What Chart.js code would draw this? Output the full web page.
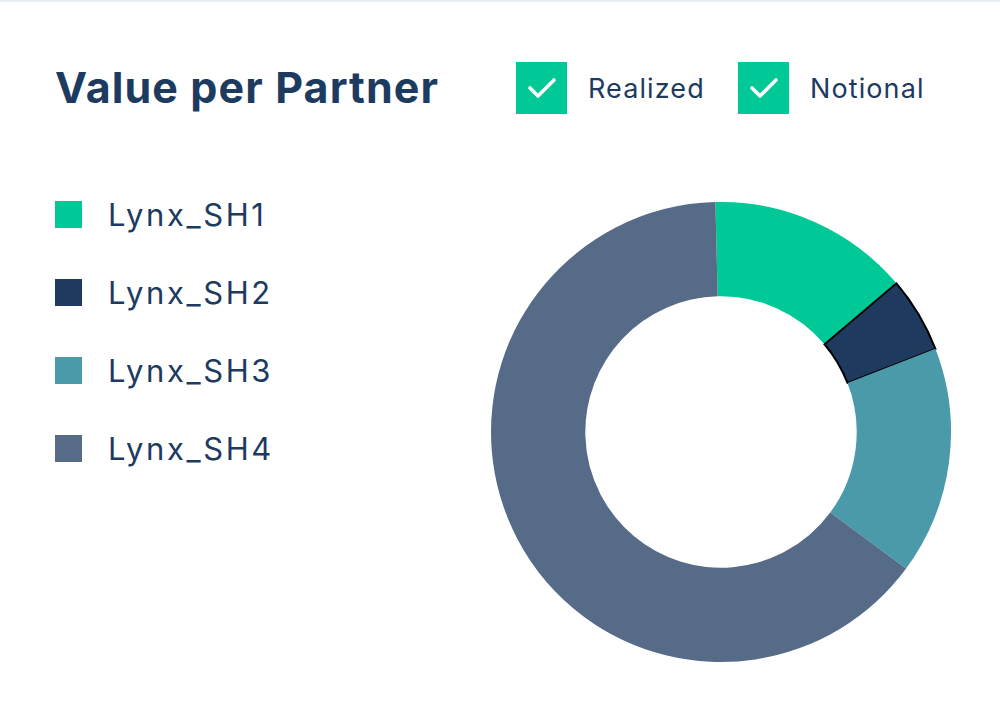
<!DOCTYPE html>
<html>
<head>
<meta charset="utf-8">
<script src="https://cdn.jsdelivr.net/npm/chart.js@4/dist/chart.umd.min.js"></script>
<style>
  html, body { margin:0; padding:0; background:#fff; }
  body { width:1000px; height:709px; position:relative; overflow:hidden; font-family:Inter, "Noto Sans", sans-serif; color:#1d3a5f; }
  .topline { position:absolute; left:0; top:0; width:1000px; height:2px; background:#e9eef2; }
  .title { position:absolute; left:55px; top:60px; font-size:43px; font-weight:700; letter-spacing:1.1px; line-height:54px; }
  .toggle { position:absolute; top:62px; height:52px; display:flex; align-items:center; }
  .box { width:51px; height:52px; background:#00c896; display:flex; align-items:center; justify-content:center; }
  .toggle span { margin-left:21px; font-size:27px; letter-spacing:1.1px; }
  .legend { position:absolute; left:55px; top:199px; }
  .item { position:absolute; left:0; height:30px; display:flex; align-items:center; white-space:nowrap; }
  .sw { width:27px; height:27px; }
  .item span { margin-left:26px; font-size:31px; letter-spacing:2.6px; }
  #wrap { position:absolute; left:490px; top:201px; width:462px; height:462px; }
</style>
</head>
<body>
<div class="topline"></div>
<div class="title" id="title"></div>
<div id="toggles"></div>
<div class="legend" id="legend"></div>
<div id="wrap"><canvas id="c"></canvas></div>
<script>
const chartTitle = "Value per Partner";
const toggleLabels = ["Realized", "Notional"];
const categories = ["Lynx_SH1", "Lynx_SH2", "Lynx_SH3", "Lynx_SH4"];
const values = [14.2, 5.3, 16.0, 64.5];
const colors = ["#00c896", "#1f3a5f", "#4a9aaa", "#566b88"];

document.getElementById('title').textContent = chartTitle;

const toggleX = [516, 738];
const tg = document.getElementById('toggles');
toggleLabels.forEach((t, i) => {
  const d = document.createElement('div');
  d.className = 'toggle';
  d.style.left = toggleX[i] + 'px';
  d.innerHTML = '<div class="box"><svg width="30" height="24" viewBox="0 0 30 24"><polyline points="3,12 11,20 27,4" fill="none" stroke="#fff" stroke-width="3.6" stroke-linecap="round" stroke-linejoin="round"/></svg></div>';
  const s = document.createElement('span');
  s.textContent = t;
  d.appendChild(s);
  tg.appendChild(d);
});

const lg = document.getElementById('legend');
categories.forEach((c, i) => {
  const d = document.createElement('div');
  d.className = 'item';
  d.style.top = (i * 78.3) + 'px';
  const sw = document.createElement('div');
  sw.className = 'sw';
  sw.style.background = colors[i];
  const s = document.createElement('span');
  s.textContent = c;
  d.appendChild(sw);
  d.appendChild(s);
  lg.appendChild(d);
});

new Chart(document.getElementById('c'), {
  type: 'doughnut',
  data: {
    labels: categories,
    datasets: [{
      data: values,
      backgroundColor: colors,
      borderColor: ['#ffffff', '#000000', '#ffffff', '#ffffff'],
      borderWidth: [0, 2, 0, 0],
      hoverOffset: 0,
      borderJoinStyle: 'miter'
    }]
  },
  options: {
    responsive: true,
    maintainAspectRatio: false,
    animation: false,
    cutout: '59%',
    rotation: -1.4,
    layout: { padding: 0 },
    plugins: { legend: { display: false }, tooltip: { enabled: false } },
    events: []
  }
});
</script>
</body>
</html>
